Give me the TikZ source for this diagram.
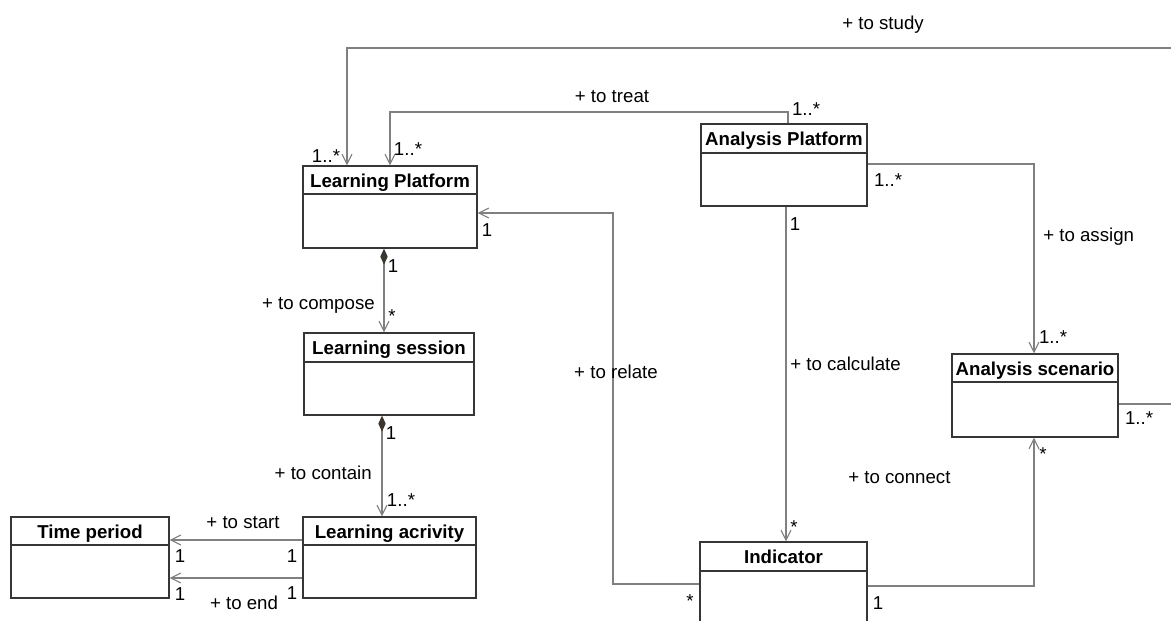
\documentclass[tikz,border=0pt]{standalone}
\usepackage{fontspec}
\setmainfont{Liberation Sans}
\usetikzlibrary{arrows.meta,fit,calc}

\definecolor{boxline}{HTML}{363636}
\definecolor{linkline}{HTML}{808080}
\definecolor{diamfill}{HTML}{3E362C}

\tikzset{
  classbox/.style={draw=boxline, line width=1pt, inner sep=0pt},
  classname/.style={font=\fontsize{14}{16}\selectfont\bfseries, inner sep=0pt, anchor=base},
  lbl/.style={font=\fontsize{14}{16}\selectfont, inner sep=0pt, text height=10pt, text depth=0pt},
  barb/.tip={Straight Barb[length=7.5pt,width=7.5pt,line width=0.8pt]},
  assoc/.style={draw=linkline, line width=1pt, -barb},
  comp/.style={draw=linkline, line width=1pt,
    {Diamond[length=12pt,width=5.5pt,fill=diamfill,color=diamfill]}-barb},
}

% class box: name, x1, y1, x2, y2, divider y, title
\newcommand\umlclass[7]{%
  \node[classbox, fit={(#2,#3) (#4,#5)}] (#1) {};
  \draw[boxline, line width=1pt] (#1.west |- 0,#6) -- (#1.east |- 0,#6);
  \node[classname] (#1-title) at ({(#2+#4)/2},{#3+21}) {#7};
}

\begin{document}
\begin{tikzpicture}[x=0.75pt, y=-0.75pt]
  \useasboundingbox (0,0) rectangle (1171,621);
  \fill[white] (0,0) rectangle (1171,621);
  \clip (0,0) rectangle (1171,621);

  % classes
  \umlclass{lp}{303}{166}{477}{248}{194}{Learning Platform}
  \umlclass{ls}{304}{333}{474}{415}{362}{Learning session}
  \umlclass{la}{303}{517}{476}{598}{545}{Learning acrivity}
  \umlclass{tp}{11}{517}{169}{598}{545}{Time period}
  \umlclass{ap}{701}{124}{867}{206}{153}{Analysis Platform}
  \umlclass{as}{952}{354}{1118}{437}{382}{Analysis scenario}
  \umlclass{ind}{700}{542}{867}{640}{571}{Indicator}

  % + to study
  \draw[assoc] (as.east |- 0,404) -- (1185,404) -- (1185,48) -- (347,48) -- (347,0 |- lp.north);
  \node[lbl] (l-study) at (883,23) {+ to study};
  \node[lbl] (m-study-a) at (326,156) {1..*};
  \node[lbl] (m-study-b) at (1139,418) {1..*};

  % + to treat
  \draw[assoc] (788,0 |- ap.north) -- (788,112) -- (390,112) -- (390,0 |- lp.north);
  \node[lbl] (l-treat) at (612,96) {+ to treat};
  \node[lbl] (m-treat-a) at (806,109) {1..*};
  \node[lbl] (m-treat-b) at (408,149) {1..*};

  % + to relate
  \draw[assoc] (ind.west |- 0,584) -- (613,584) -- (613,213) -- (lp.east |- 0,213);
  \node[lbl] (l-relate) at (616,372) {+ to relate};
  \node[lbl] (m-relate-a) at (487,230) {1};
  \node[lbl] (m-relate-b) at (690,601) {*};

  % + to calculate
  \draw[assoc] (786,0 |- ap.south) -- (786,0 |- ind.north);
  \node[lbl, anchor=west] (l-calc) at (790,364) {+ to calculate};
  \node[lbl] (m-calc-a) at (795,224) {1};
  \node[lbl] (m-calc-b) at (794,527) {*};

  % + to assign
  \draw[assoc] (ap.east |- 0,164) -- (1034,164) -- (1034,0 |- as.north);
  \node[lbl, anchor=west] (l-assign) at (1043,235) {+ to assign};
  \node[lbl] (m-assign-a) at (888,180) {1..*};
  \node[lbl] (m-assign-b) at (1053,337) {1..*};

  % + to connect
  \draw[assoc] (ind.east |- 0,586) -- (1034,586) -- (1034,0 |- as.south);
  \node[lbl, anchor=west] (l-connect) at (848,477) {+ to connect};
  \node[lbl] (m-connect-a) at (878,603) {1};
  \node[lbl] (m-connect-b) at (1043,454) {*};

  % + to compose
  \draw[comp] (384,0 |- lp.south) -- (384,0 |- ls.north);
  \node[lbl, anchor=east] (l-compose) at (375,303) {+ to compose};
  \node[lbl] (m-compose-a) at (393,266) {1};
  \node[lbl] (m-compose-b) at (392,316) {*};

  % + to contain
  \draw[comp] (382,0 |- ls.south) -- (382,0 |- la.north);
  \node[lbl, anchor=east] (l-contain) at (372,473) {+ to contain};
  \node[lbl] (m-contain-a) at (391,433) {1};
  \node[lbl] (m-contain-b) at (401,500) {1..*};

  % + to start / + to end
  \draw[assoc] (la.west |- 0,540) -- (tp.east |- 0,540);
  \draw[assoc] (la.west |- 0,578) -- (tp.east |- 0,578);
  \node[lbl] (l-start) at (243,522) {+ to start};
  \node[lbl] (l-end) at (244,603) {+ to end};
  \node[lbl] (m-start-a) at (180,556) {1};
  \node[lbl] (m-start-b) at (292,556) {1};
  \node[lbl] (m-end-a) at (180,594) {1};
  \node[lbl] (m-end-b) at (292,593) {1};
\end{tikzpicture}
\end{document}
